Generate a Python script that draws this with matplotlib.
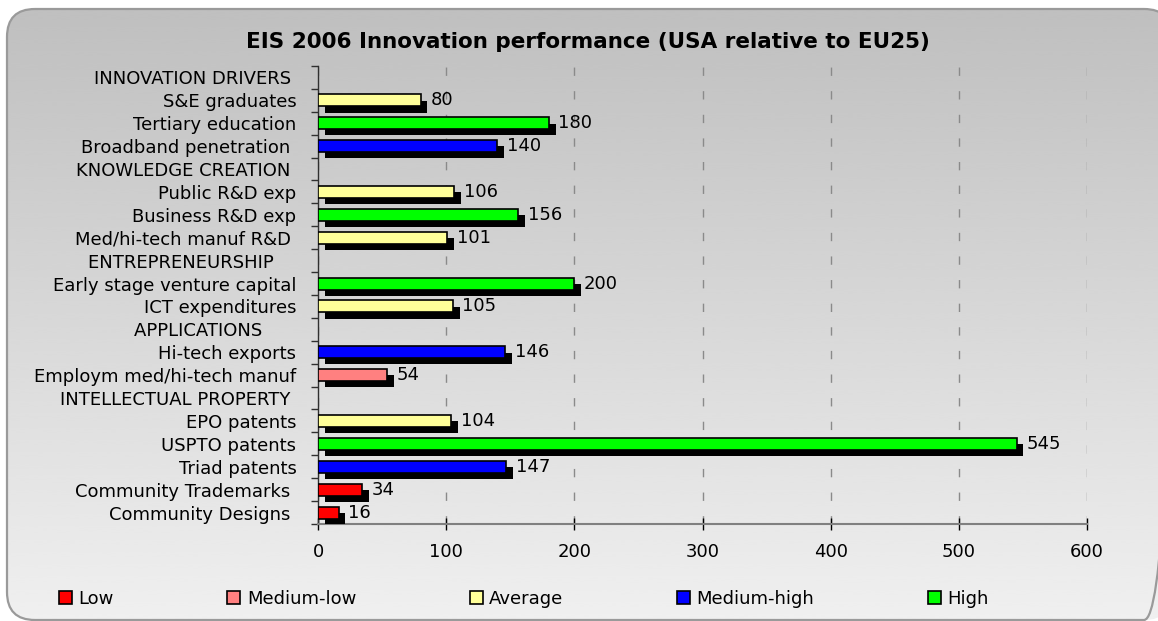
import numpy as np
import matplotlib.pyplot as plt
import matplotlib.patheffects as pe
from matplotlib.patches import FancyBboxPatch, Patch

# rows top to bottom; headers have no value
row_labels = ["INNOVATION DRIVERS ", "S&E graduates", "Tertiary education",
              "Broadband penetration ", "KNOWLEDGE CREATION ", "Public R&D exp",
              "Business R&D exp", "Med/hi-tech manuf R&D ", "ENTREPRENEURSHIP    ",
              "Early stage venture capital", "ICT expenditures", "APPLICATIONS      ",
              "Hi-tech exports", "Employm med/hi-tech manuf", "INTELLECTUAL PROPERTY ",
              "EPO patents", "USPTO patents", "Triad patents",
              "Community Trademarks ", "Community Designs "]
values = [None, 80, 180, 140, None, 106, 156, 101, None, 200, 105, None,
          146, 54, None, 104, 545, 147, 34, 16]
levels = [None, "Average", "High", "Medium-high", None, "Average", "High", "Average",
          None, "High", "Average", None, "Medium-high", "Medium-low", None,
          "Average", "High", "Medium-high", "Low", "Low"]

level_names = ["Low", "Medium-low", "Average", "Medium-high", "High"]
level_colors = {"Low": "#ff0000", "Medium-low": "#ff8080", "Average": "#ffff99",
                "Medium-high": "#0000ff", "High": "#00ff00"}

xticks = [0, 100, 200, 300, 400, 500, 600]
title = "EIS 2006 Innovation performance (USA relative to EU25)"

W, H = 1158, 621
fig = plt.figure(figsize=(W / 100, H / 100), dpi=100)

# background panel with vertical gradient
bg = fig.add_axes([0, 0, 1, 1], zorder=-10)
bg.axis("off")
panel = FancyBboxPatch((7, 9), 1172 - 7, 620 - 9, boxstyle="round,pad=0,rounding_size=28",
                       facecolor="none", edgecolor="#9a9a9a", linewidth=1.6, zorder=2)
bg.add_patch(panel)
grad = np.linspace(0.75, 0.94, 256).reshape(-1, 1)
im = bg.imshow(grad, cmap="gray", vmin=0, vmax=1, extent=(7, 1172, 620, 9),
               aspect="auto", interpolation="bicubic")
im.set_clip_path(panel)
bg.set_xlim(0, W)
bg.set_ylim(H, 0)

ax = fig.add_axes([318 / W, 1 - 524 / H, (1087 - 318) / W, (524 - 66) / H])
ax.set_facecolor("none")

n = len(row_labels)
ypos = np.arange(n)
idx = [i for i in range(n) if values[i] is not None]
vals = [values[i] for i in idx]
cols = [level_colors[levels[i]] for i in idx]

bars = ax.barh([ypos[i] for i in idx], vals, height=0.52, color=cols,
               edgecolor="black", linewidth=1.2, zorder=3)
for b in bars:
    b.set_path_effects([pe.SimplePatchShadow(offset=(5, -4.5), shadow_rgbFace="black",
                                             alpha=1.0), pe.Normal()])
ax.bar_label(bars, labels=[str(v) for v in vals], padding=7, fontsize=13)

ax.set_xlim(0, 600)
ax.set_ylim(n - 0.5, -0.5)
ax.set_xticks(xticks)
ax.set_yticks(ypos)
ax.set_yticklabels(row_labels)
ax.set_yticks(np.arange(n + 1) - 0.5, minor=True)
ax.tick_params(axis="y", which="major", length=0, pad=15.5, labelsize=13)
ax.tick_params(axis="y", which="minor", length=5, width=1, color="#303030", direction="out")
ax.tick_params(axis="x", which="major", length=9, width=1, direction="inout",
               color="black", pad=9, labelsize=13)

ax.xaxis.grid(True, color="#8a8a8a", linewidth=1, linestyle=(0, (6, 11)))
ax.set_axisbelow(True)
for s in ["top", "right"]:
    ax.spines[s].set_visible(False)
ax.spines["left"].set_color("#303030")
ax.spines["left"].set_linewidth(1)
ax.spines["bottom"].set_color("#808080")
ax.spines["bottom"].set_linewidth(1.5)

fig.text(588 / W, 1 - 42 / H, title, ha="center", va="center", fontsize=15.5,
         fontweight="bold")

handles = [Patch(facecolor=level_colors[k], edgecolor="black", linewidth=1.2) for k in level_names]
fig.legend(handles, level_names, loc="center left", bbox_to_anchor=(59 / W, 1 - 599 / H),
           ncol=5, frameon=False, fontsize=13, handlelength=0.72, handleheight=0.72,
           handletextpad=0.35, columnspacing=6.3, borderpad=0, borderaxespad=0)

fig.savefig("out.png", dpi=100)
